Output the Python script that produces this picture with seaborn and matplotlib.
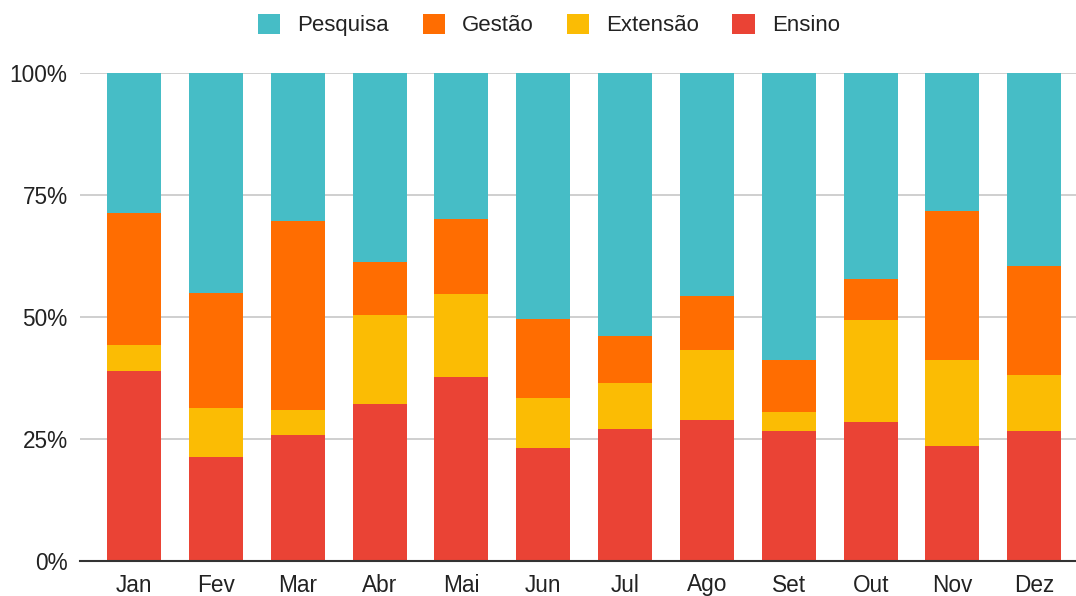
import numpy as np
import pandas as pd
import matplotlib
matplotlib.use('Agg')
import matplotlib.pyplot as plt
import seaborn as sns
from matplotlib.patches import Patch

# Meses e percentuais (%) por categoria
meses = ['Jan', 'Fev', 'Mar', 'Abr', 'Mai', 'Jun', 'Jul', 'Ago', 'Set', 'Out', 'Nov', 'Dez']
ensino = [38.9, 21.4, 25.9, 32.2, 37.8, 23.2, 27.1, 29.0, 26.7, 28.6, 23.5, 26.7]
extensao = [5.5, 10.0, 5.1, 18.2, 16.9, 10.2, 9.4, 14.2, 3.9, 20.9, 17.8, 11.4]
gestao = [26.9, 23.6, 38.8, 11.0, 15.4, 16.2, 9.6, 11.1, 10.7, 8.3, 30.4, 22.5]
pesquisa = [28.7, 45.0, 30.2, 38.6, 29.9, 50.4, 53.9, 45.7, 58.7, 42.2, 28.3, 39.4]

categorias = ['Ensino', 'Extensão', 'Gestão', 'Pesquisa']  # de baixo para cima
cores = {'Pesquisa': '#46BDC6', 'Gestão': '#FF6D01',
         'Extensão': '#FBBC04', 'Ensino': '#EA4335'}

df = pd.DataFrame({'Mes': meses, 'Ensino': ensino, 'Extensão': extensao,
                   'Gestão': gestao, 'Pesquisa': pesquisa})
# normalizar para 100% e acumular
vals = df[categorias]
vals = vals.div(vals.sum(axis=1), axis=0) * 100
cum = vals.cumsum(axis=1)

sns.set_style('white')
plt.rcParams['font.family'] = ['Liberation Sans', 'DejaVu Sans']

fig = plt.figure(figsize=(10.76, 5.96), dpi=100)
ax = fig.add_axes([80 / 1076, 35 / 596, 996 / 1076, (561 - 73.4) / 596])

# barras sobrepostas: do topo acumulado para a base
for cat in reversed(categorias):
    sns.barplot(x=df['Mes'], y=cum[cat], color=cores[cat], width=0.66,
                saturation=1, linewidth=0, ax=ax, zorder=3)

ax.set_ylim(0, 100)
ax.set_xlim(-0.66, 11.51)
ax.set_yticks([0, 25, 50, 75, 100])
ax.set_yticklabels(['0%', '25%', '50%', '75%', '100%'])
ax.set_xlabel('')
ax.set_ylabel('')

ax.grid(axis='y', color='#cccccc', linewidth=1.3, zorder=0)
ax.grid(axis='x', visible=False)
for s in ['top', 'right', 'left']:
    ax.spines[s].set_visible(False)
ax.spines['bottom'].set_color('#333333')
ax.spines['bottom'].set_linewidth(1.5)
ax.spines['bottom'].set_zorder(5)

ax.tick_params(axis='both', length=0, labelsize=16.3, colors='#222222')
ax.tick_params(axis='x', pad=9)
ax.tick_params(axis='y', pad=9)

handles = [Patch(facecolor=cores[c], edgecolor='none', label=c)
           for c in ['Pesquisa', 'Gestão', 'Extensão', 'Ensino']]
fig.legend(handles=handles, loc='center', bbox_to_anchor=(549 / 1076, 1 - 25 / 596),
           ncol=4, frameon=False, fontsize=16, handlelength=1.0, handleheight=1.0,
           handletextpad=0.77, columnspacing=1.5, labelcolor='#222222')

plt.savefig('out.png', dpi=100)
